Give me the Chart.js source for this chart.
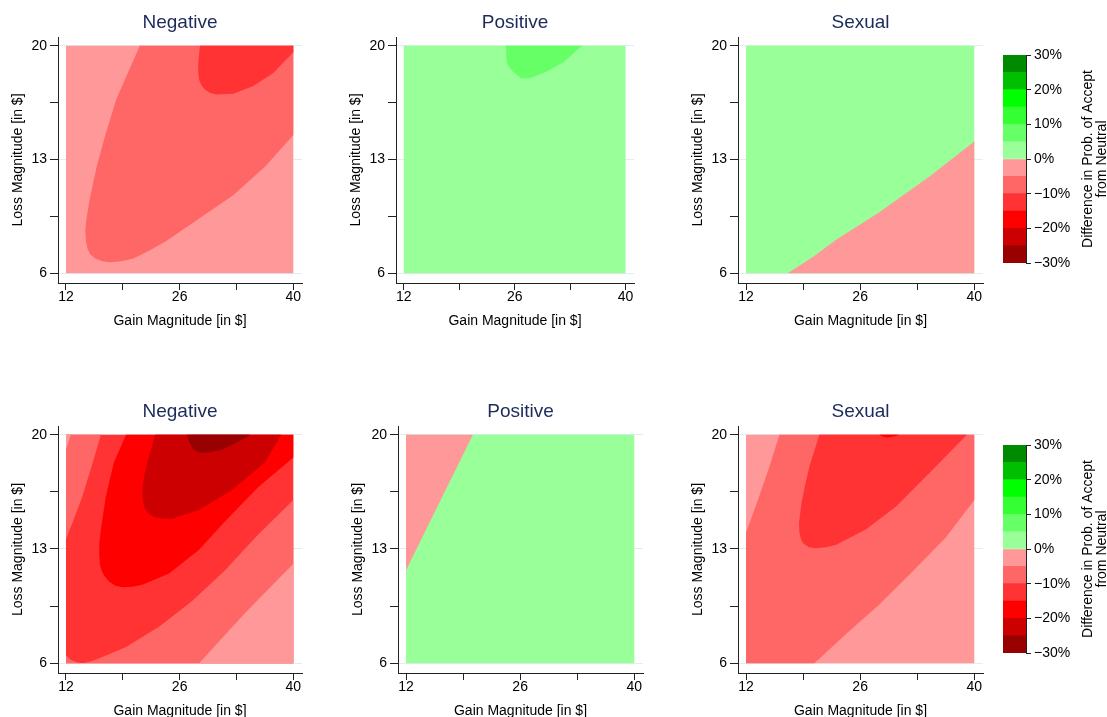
<!DOCTYPE html>
<html>
<head>
<meta charset="utf-8">
<script src="https://cdn.jsdelivr.net/npm/chart.js@4"></script>
<style>
  html, body { margin: 0; padding: 0; background: #fff; overflow: hidden; }
  #fig { position: relative; width: 1107px; height: 717px; overflow: hidden; background: #fff; }
  #fig canvas { position: absolute; }
</style>
</head>
<body>
<div id="fig"></div>
<script>
// ---- axes -------------------------------------------------------------
const gainTicks  = [12, 19, 26, 33, 40];
const gainLabels = ['12', '', '26', '', '40'];
const lossTicks  = [6, 9.5, 13, 16.5, 20];
const lossLabels = ['6', '', '13', '', '20'];

// ---- colour classes (lower edge of each 5-point band) -----------------
const bandLows   = [-30, -25, -20, -15, -10, -5, 0, 5, 10, 15, 20, 25];
const bandColors = ['#990000', '#cc0000', '#ff0000', '#ff3333', '#ff6666', '#ff9999',
                    '#99ff99', '#66ff66', '#33ff33', '#00ff00', '#00bf00', '#008a00'];
const colorbarTicks = [-30, -20, -10, 0, 10, 20, 30];
const colorbarTitleLines = ['Difference in Prob. of Accept', 'from Neutral'];

// full gain × loss grid
const fullGrid = [[12, 6], [12, 20], [40, 20], [40, 6]];

// ---- top row: Negative ------------------------------------------------
const topNeg10 = [[21.1,20],[19.6,18.3],[18.2,16.7],[16.9,14.6],[15.8,12.6],[14.9,10.5],[14.5,9.3],
  [14.38,8.6],[14.45,8.0],[14.65,7.5],[15.0,7.15],[15.6,6.9],[16.5,6.74],[17.4,6.68],[18.8,6.74],
  [20.3,6.9],[22.3,7.4],[24.4,8.0],[28.5,9.4],[32.6,10.8],[36.6,12.6],[40,14.5],[40,20]];
const topNeg15 = [[28.5,20],[28.3,19.0],[28.28,18.4],[28.4,17.9],[28.7,17.55],[29.1,17.3],[29.7,17.1],
  [30.5,17.0],[32.6,17.05],[35.0,17.5],[37.5,18.3],[40,19.6],[40,20]];

// ---- top row: Positive ------------------------------------------------
const topPos5 = [[24.9,20],[25.0,19.0],[25.3,18.7],[25.8,18.4],[26.8,18.0],[27.9,18.0],[30.0,18.4],
  [32.2,19.0],[34.5,20]];

// ---- top row: Sexual --------------------------------------------------
const topSex5 = [[17.1,6],[20.2,7.0],[23.0,8.05],[28.35,9.75],[34.5,11.95],[40,14.1],[40,6]];

// ---- bottom row: Negative ---------------------------------------------
const botNeg10Low = [[12,6.5],[12.5,6.25],[13.2,6.07],[14.0,6.0],[15.0,6.1],[16.1,6.3],[19.4,7.0],
  [23.5,8.25],[27.5,9.8],[31.6,11.7],[35.5,13.8],[40,16.0],[40,6],[12,6]];
const botNeg5Low = [[28.4,6],[34.0,9.05],[40,12.1],[40,6]];
const botNeg10High = [[12,20],[16.3,20],[15.3,18.3],[14.0,16.2],[12.8,14.6],[12,13.6]];
const botNeg5Corner = [[12,20],[12.6,20],[12,19.1]];
const botNeg20 = [[19.4,20],[17.9,18.3],[16.9,16.2],[16.3,14.2],[16.1,13.3],[16.1,12.6],[16.2,12.0],
  [16.45,11.6],[16.8,11.3],[17.3,11.0],[18.1,10.75],[19.0,10.65],[20.2,10.68],[21.4,10.8],[24.7,11.5],
  [28.4,12.95],[31.6,14.7],[35.7,16.8],[40,18.6],[40,20]];
const botNeg25 = [[23.0,20],[22.0,18.3],[21.6,17.4],[21.4,16.6],[21.45,16.0],[21.7,15.5],[22.2,15.15],
  [23.0,14.95],[24.0,14.85],[25.1,14.85],[28.4,15.4],[32.4,16.6],[36.5,18.3],[38.5,20]];
const botNeg30 = [[26.9,20],[27.3,19.4],[27.7,19.1],[28.4,18.92],[29.2,18.88],[31.2,19.08],
  [33.7,19.7],[34.7,20]];

// ---- bottom row: Positive ---------------------------------------------
const botPos5 = [[12,20],[20.2,20],[12,11.7]];

// ---- bottom row: Sexual -----------------------------------------------
const botSex10 = [[12,14.0],[13.6,16.2],[14.9,18.1],[16.1,20],[40,20],[40,16.0],[36.5,13.7],
  [32.4,11.6],[28.35,9.6],[24.3,7.8],[20.4,6],[12,6]];
const botSex15 = [[21.0,20],[19.8,18.1],[19.2,16.8],[18.8,15.8],[18.5,14.6],[18.55,14.0],[18.75,13.6],
  [19.0,13.35],[19.7,13.1],[20.6,13.05],[21.8,13.1],[23.0,13.25],[26.7,14.2],[30.4,15.6],[34.5,17.65],
  [39.1,20]];
const botSex20 = [[28.35,20],[28.8,19.88],[29.4,19.83],[30.2,19.9],[30.8,20]];

// ---- figure setup -----------------------------------------------------
const FONT = '"Liberation Sans", Arial, Helvetica, sans-serif';
Chart.defaults.font.family = FONT;
const fig = document.getElementById('fig');

const panels = [
  { title: 'Negative', box: [58, 37, 302, 283],
    layers: [[-5, fullGrid], [-10, topNeg10], [-15, topNeg15]] },
  { title: 'Positive', box: [396, 37, 634, 283],
    layers: [[0, fullGrid], [5, topPos5]] },
  { title: 'Sexual', box: [738, 37, 983, 283],
    layers: [[0, fullGrid], [-5, topSex5]] },
  { title: 'Negative', box: [58, 426, 302, 673],
    layers: [[-15, fullGrid], [-10, botNeg10Low], [-5, botNeg5Low], [-10, botNeg10High],
             [-5, botNeg5Corner], [-20, botNeg20], [-25, botNeg25], [-30, botNeg30]] },
  { title: 'Positive', box: [398, 426, 643, 673],
    layers: [[0, fullGrid], [-5, botPos5]] },
  { title: 'Sexual', box: [738, 426, 983, 673],
    layers: [[-5, fullGrid], [-10, botSex10], [-15, botSex15], [-20, botSex20]] },
];

const Y_AXIS_W = 58, X_AXIS_H = 57, TITLE_H = 37, RIGHT_PAD = 58;

function addCanvas(left, top, width, height) {
  const c = document.createElement('canvas');
  c.width = width; c.height = height;
  c.style.left = left + 'px'; c.style.top = top + 'px';
  c.style.width = width + 'px'; c.style.height = height + 'px';
  fig.appendChild(c);
  return c;
}

function drawPanel(p) {
  const [l, t, r, b] = p.box;
  const canvas = addCanvas(l - Y_AXIS_W, t - TITLE_H,
                           (r - l) + Y_AXIS_W + RIGHT_PAD, (b - t) + TITLE_H + X_AXIS_H);
  const n = p.layers.length;
  const datasets = p.layers.map(([band, pts], i) => ({
    data: pts.map(([x, y]) => ({ x, y })),
    xAxisID: 'x',
    yAxisID: 'y',
    backgroundColor: bandColors[bandLows.indexOf(band)],
    borderWidth: 0,
    pointRadius: 0,
    pointHoverRadius: 0,
    tension: 0,
    fill: 'shape',
    order: n - i,
  }));
  const tickFont = { size: 14, family: FONT, lineHeight: 1.2 };
  new Chart(canvas, {
    type: 'line',
    data: { datasets },
    options: {
      responsive: false, animation: false, events: [], devicePixelRatio: 1,
      layout: { padding: 0, autoPadding: false },
      plugins: {
        legend: { display: false }, tooltip: { enabled: false },
        title: { display: true, text: p.title, color: '#1c2b5a',
                 font: { size: 19, family: FONT, weight: 'normal', lineHeight: 1.2 },
                 padding: { top: 10.9, bottom: 3.3 } },
      },
      scales: {
        x: {
          type: 'linear', min: 11.015, max: 41.07,
          afterBuildTicks: s => { s.ticks = gainTicks.map(v => ({ value: v })); },
          afterFit: s => { s.height = X_AXIS_H; },
          ticks: { callback: (v, i) => gainLabels[i], autoSkip: false, maxRotation: 0,
                   color: '#000', font: tickFont, padding: -1 },
          grid: { drawOnChartArea: false, tickLength: 7, tickColor: '#222', color: '#222' },
          border: { display: true, color: '#222', width: 1 },
          title: { display: true, text: 'Gain Magnitude [in $]', color: '#000',
                   font: { size: 14, family: FONT, lineHeight: 1.2 }, padding: { top: 0, bottom: 10.6 } },
        },
        y: {
          type: 'linear', position: 'left', min: 5.4, max: 20.535,
          afterBuildTicks: s => { s.ticks = lossTicks.map(v => ({ value: v })); },
          afterFit: s => { s.width = Y_AXIS_W; },
          ticks: { callback: (v, i) => lossLabels[i], autoSkip: false,
                   color: '#000', font: tickFont, padding: 3 },
          grid: { tickLength: 8, tickColor: '#222',
                  color: c => (lossLabels[c.index] ? '#e3ecef' : 'rgba(0,0,0,0)') },
          border: { display: true, color: '#222', width: 1 },
          title: { display: true, text: 'Loss Magnitude [in $]', color: '#000',
                   font: { size: 14, family: FONT, lineHeight: 1.2 }, padding: { top: 9.6, bottom: 0 } },
        },
        // empty right-hand margin so the title stays centred over the plot
        margin: {
          type: 'linear', position: 'right', display: true,
          afterFit: s => { s.width = RIGHT_PAD; },
          ticks: { display: false },
          grid: { display: false, drawTicks: false },
          border: { display: false },
        },
      },
    },
  });
}

panels.forEach(drawPanel);

// ---- colour bars -------------------------------------------------------
const colorbarTitle = {
  id: 'colorbarTitle',
  afterDraw(chart) {
    const { ctx, chartArea } = chart;
    const cy = (chartArea.top + chartArea.bottom) / 2;
    ctx.save();
    ctx.fillStyle = '#000';
    ctx.font = '14px ' + FONT;
    ctx.textAlign = 'center';
    ctx.textBaseline = 'middle';
    colorbarTitleLines.forEach((txt, i) => {
      ctx.save();
      ctx.translate(chartArea.right + 62.3 + i * 13.7, cy);
      ctx.rotate(-Math.PI / 2);
      ctx.fillText(txt, 0, 0);
      ctx.restore();
    });
    ctx.restore();
  },
};

function drawColorbar(box) {
  const [l, t, r, b] = box;
  const canvasLeft = l - 8, canvasW = 1107 - canvasLeft;
  const canvas = addCanvas(canvasLeft, t - 15, canvasW, (b - t) + 30);
  new Chart(canvas, {
    type: 'bar',
    data: {
      labels: [''],
      datasets: bandLows.map((lo, i) => ({
        data: [[lo, lo + 5]],
        backgroundColor: bandColors[i],
        borderWidth: 0,
        barPercentage: 1,
        categoryPercentage: 1,
        grouped: false,
      })),
    },
    options: {
      responsive: false, animation: false, events: [], devicePixelRatio: 1,
      layout: { padding: { left: 8, top: 15, right: 0, bottom: 15 }, autoPadding: false },
      plugins: { legend: { display: false }, tooltip: { enabled: false }, title: { display: false } },
      scales: {
        x: { display: false },
        y: {
          position: 'right', min: -30, max: 30,
          afterBuildTicks: s => { s.ticks = colorbarTicks.map(v => ({ value: v })); },
          afterFit: s => { s.width = canvasW - 8 - (r - l); },
          ticks: { callback: v => (v < 0 ? '\u2212' + Math.abs(v) : String(v)) + '%',
                   color: '#000', font: { size: 14, family: FONT }, padding: 3 },
          grid: { drawOnChartArea: false, tickLength: 5, tickColor: '#222' },
          border: { display: true, color: '#222', width: 1 },
        },
      },
    },
    plugins: [colorbarTitle],
  });
}

drawColorbar([1003, 55, 1026, 263]);
drawColorbar([1003, 445, 1026, 653]);
</script>
</body>
</html>
